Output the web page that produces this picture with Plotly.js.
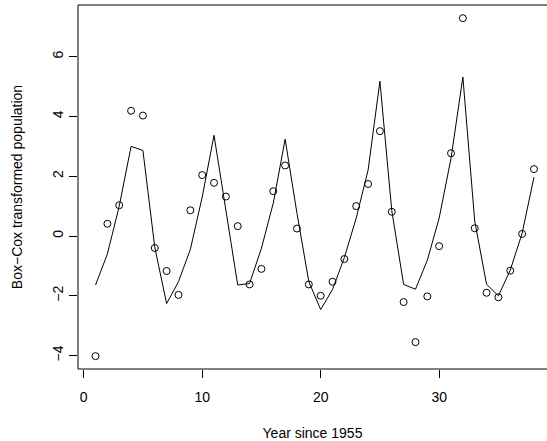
<!DOCTYPE html>
<html>
<head>
<meta charset="utf-8">
<script src="https://cdn.plot.ly/plotly-3.0.1.min.js"></script>
<style>html,body{margin:0;padding:0;background:#fff;}#chart{width:547px;height:441px;}</style>
</head>
<body>
<div id="chart"></div>
<script>
const years = [1,2,3,4,5,6,7,8,9,10,11,12,13,14,15,16,17,18,19,20,21,22,23,24,25,26,27,28,29,30,31,32,33,34,35,36,37,38];
const observed = [-4.02,0.41,1.03,4.19,4.03,-0.40,-1.17,-1.97,0.86,2.04,1.78,1.32,0.33,-1.62,-1.10,1.50,2.36,0.25,-1.62,-2.00,-1.53,-0.77,1.00,1.74,3.51,0.81,-2.21,-3.55,-2.02,-0.34,2.77,7.29,0.26,-1.90,-2.05,-1.16,0.07,2.24];
const fitted = [-1.64,-0.60,1.00,3.00,2.86,-0.38,-2.26,-1.53,-0.45,1.30,3.37,0.80,-1.64,-1.59,-0.41,1.10,3.24,0.76,-1.53,-2.46,-1.79,-0.72,0.60,2.20,5.18,0.85,-1.62,-1.78,-0.81,0.60,2.60,5.32,0.50,-1.62,-2.00,-1.14,0.09,1.97];
const xTicks = [0,10,20,30];
const yTicks = [-4,-2,0,2,4,6];
const xTitle = "Year since 1955";
const yTitle = "Box\u2212Cox transformed population";

const font = {family: "Liberation Sans, Arial, Helvetica, sans-serif", size: 14, color: "#000"};

const traces = [
  {x: years, y: observed, type: "scatter", mode: "markers",
   marker: {symbol: "circle-open", size: 7, color: "#000", line: {width: 1, color: "#000"}},
   hoverinfo: "skip", showlegend: false},
  {x: years, y: fitted, type: "scatter", mode: "lines",
   line: {color: "#000", width: 1}, hoverinfo: "skip", showlegend: false}
];

const layout = {
  width: 547, height: 441,
  margin: {l: 78, r: 0, t: 5, b: 72, pad: 0},
  paper_bgcolor: "#fff", plot_bgcolor: "#fff",
  font: font,
  showlegend: false,
  xaxis: {range: [-0.48, 39.1], tickvals: xTicks, ticktext: xTicks.map(String),
          ticks: "outside", ticklen: 8, tickwidth: 1, tickcolor: "#000",
          showgrid: false, zeroline: false, showline: false,
          ticklabelstandoff: 7,
          tickfont: font,
          title: {text: xTitle, font: font, standoff: 25}},
  yaxis: {range: [-4.45, 7.73], tickvals: yTicks, ticktext: yTicks.map(v => v < 0 ? "\u2212" + Math.abs(v) : String(v)),
          ticks: "outside", ticklen: 8, tickwidth: 1, tickcolor: "#000",
          tickangle: -90,
          showgrid: false, zeroline: false, showline: false,
          tickfont: font,
          title: {text: yTitle, font: font, standoff: 24}},
  shapes: [
    {type: "line", xref: "paper", yref: "paper", x0: 0, x1: 1, y0: 0, y1: 0, line: {color: "#000", width: 1}},
    {type: "line", xref: "paper", yref: "paper", x0: 0, x1: 1, y0: 1, y1: 1, line: {color: "#000", width: 1}},
    {type: "line", xref: "paper", yref: "paper", x0: 0, x1: 0, y0: 0, y1: 1, line: {color: "#000", width: 1}}
  ]
};

Plotly.newPlot("chart", traces, layout, {staticPlot: true, displayModeBar: false});
</script>
</body>
</html>
